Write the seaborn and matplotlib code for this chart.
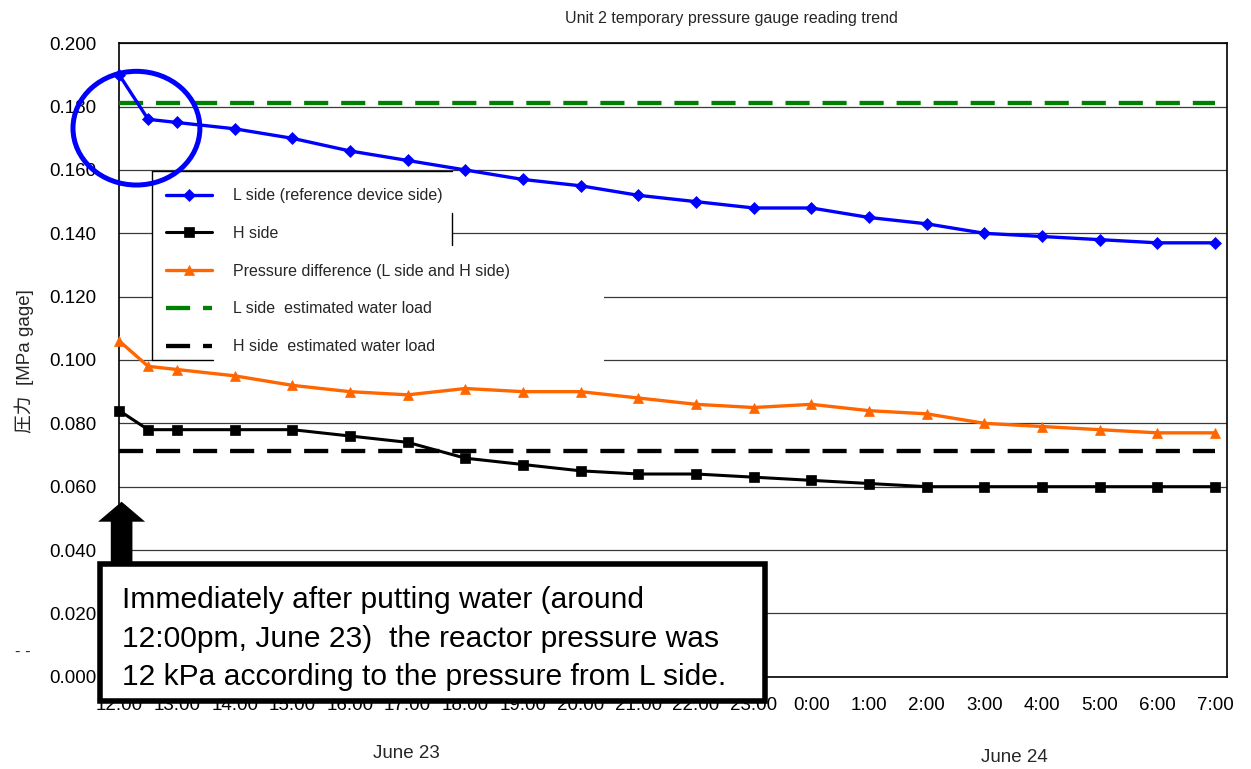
import matplotlib
matplotlib.use("Agg")
import matplotlib.pyplot as plt
import seaborn as sns
from matplotlib.patches import Ellipse, FancyArrow, Rectangle
from matplotlib.lines import Line2D

# ---------------- data ----------------
hours = [0, 0.5, 1, 2, 3, 4, 5, 6, 7, 8, 9, 10, 11, 12, 13, 14, 15, 16, 17, 18, 19]
l_side = [0.190, 0.176, 0.175, 0.173, 0.170, 0.166, 0.163, 0.160, 0.157, 0.155, 0.152,
          0.150, 0.148, 0.148, 0.145, 0.143, 0.140, 0.139, 0.138, 0.137, 0.137]
h_side = [0.084, 0.078, 0.078, 0.078, 0.078, 0.076, 0.074, 0.069, 0.067, 0.065, 0.064,
          0.064, 0.063, 0.062, 0.061, 0.060, 0.060, 0.060, 0.060, 0.060, 0.060]
p_diff = [0.106, 0.098, 0.097, 0.095, 0.092, 0.090, 0.089, 0.091, 0.090, 0.090, 0.088,
          0.086, 0.085, 0.086, 0.084, 0.083, 0.080, 0.079, 0.078, 0.077, 0.077]
l_est = 0.1812
h_est = 0.0714
tick_hours = list(range(20))
tick_labels = ["12:00", "13:00", "14:00", "15:00", "16:00", "17:00", "18:00", "19:00",
               "20:00", "21:00", "22:00", "23:00", "0:00", "1:00", "2:00", "3:00",
               "4:00", "5:00", "6:00", "7:00"]
y_ticks = [0.000, 0.020, 0.040, 0.060, 0.080, 0.100, 0.120, 0.140, 0.160, 0.180, 0.200]
series_names = ["L side (reference device side)", "H side",
                "Pressure difference (L side and H side)",
                "L side  estimated water load", "H side  estimated water load"]
title = "Unit 2 temporary pressure gauge reading trend"
ylabel = "圧力  [MPa gage]"
date_labels = ["June 23", "June 24"]
note_lines = ["Immediately after putting water (around",
              "12:00pm, June 23)  the reactor pressure was",
              "12 kPa according to the pressure from L side."]

# ---------------- style ----------------
sns.set_style("white")
plt.rcParams["font.family"] = ["Liberation Sans", "Noto Sans CJK JP", "DejaVu Sans"]

W, H = 1251, 769
fig = plt.figure(figsize=(W / 100, H / 100), dpi=100)
L, R, T, B = 119.3, 1226.7, 43.3, 676.7
ax = fig.add_axes([L / W, 1 - B / H, (R - L) / W, (B - T) / H])


def axx(px):
    return (px - L) / (R - L)


def axy(py):
    return (B - py) / (B - T)


def fx(px):
    return px / W


def fy(py):
    return 1 - py / H


blue, orange, green = "#0000FF", "#FF6600", "#008000"

sns.lineplot(x=hours, y=l_side, ax=ax, color=blue, lw=2.4, marker="D", markersize=6.5,
             markeredgecolor=blue, markeredgewidth=0.5, label=series_names[0], zorder=4)
sns.lineplot(x=hours, y=h_side, ax=ax, color="black", lw=2.2, marker="s", markersize=7,
             markeredgecolor="black", markeredgewidth=0.5, label=series_names[1], zorder=4)
sns.lineplot(x=hours, y=p_diff, ax=ax, color=orange, lw=2.4, marker="^", markersize=7.5,
             markeredgecolor=orange, markeredgewidth=0.5, label=series_names[2], zorder=4)
for ln in ax.lines:
    ln.set_clip_on(False)
ax.plot([hours[0], hours[-1]], [l_est, l_est], color=green, lw=3.1,
        linestyle=(0, (5.6, 3.0)), dash_capstyle="butt", label=series_names[3], zorder=3)
ax.plot([hours[0], hours[-1]], [h_est, h_est], color="black", lw=3.1,
        linestyle=(0, (5.6, 3.0)), dash_capstyle="butt", label=series_names[4], zorder=3)

ax.set_xlim(0, 19.2)
ax.set_ylim(0, 0.2)
ax.set_xticks(tick_hours)
ax.set_xticklabels(tick_labels)
ax.set_yticks(y_ticks)
ax.set_yticklabels([f"{v:.3f}" for v in y_ticks])
ax.tick_params(axis="both", length=0, labelsize=13.5, colors="black")
ax.tick_params(axis="y", pad=16.3)
ax.tick_params(axis="x", pad=14.5)
ax.set_xlabel("")
ax.set_ylabel("")
ax.yaxis.grid(True, color="#3a3a3a", lw=0.9)
ax.xaxis.grid(False)
ax.set_axisbelow(True)
for sp in ax.spines.values():
    sp.set_visible(True)
    sp.set_color("black")
    sp.set_linewidth(1.2)

# legend white area and partial border
for (x0, y0, x1, y1) in [(151.7, 171, 451.7, 361.5), (451.7, 248, 604, 361.5)]:
    ax.add_patch(Rectangle((axx(x0), axy(y1)), axx(x1) - axx(x0), axy(y0) - axy(y1),
                           transform=ax.transAxes, facecolor="white", edgecolor="none",
                           zorder=3.5))
for (xa, ya, xb, yb) in [(151.7, 171, 451.7, 171), (151.7, 171, 151.7, 359.5),
                         (151.7, 359.5, 213.3, 359.5), (451.7, 213, 451.7, 245)]:
    ax.add_line(Line2D([axx(xa), axx(xb)], [axy(ya), axy(yb)], transform=ax.transAxes,
                       color="black", lw=1.0, zorder=3.6))

handles, labels = ax.get_legend_handles_labels()
leg = ax.legend(handles, labels, loc="upper left", bbox_to_anchor=(axx(151.7), axy(174)),
                borderaxespad=0, frameon=False, fontsize=11.5, handlelength=2.9,
                handletextpad=1.3, labelspacing=1.42, borderpad=0.9)
leg.set_zorder(5)

# circle highlight
ax.add_patch(Ellipse((0.297, 0.1732), width=2.2, height=0.0359, fill=False,
                     edgecolor=blue, lw=3.6, clip_on=False, zorder=6))

# block arrow
ax.add_patch(FancyArrow(0.04, 0.03, 0, 0.02526, width=0.375, head_width=0.815,
                        head_length=0.00632, length_includes_head=True,
                        facecolor="black", edgecolor="none", clip_on=False, zorder=6))

# annotation box
fig.add_artist(Rectangle((fx(99.5), fy(701.2)), fx(765.2) - fx(99.5), fy(563.8) - fy(701.2),
                         transform=fig.transFigure, facecolor="white", edgecolor="black",
                         lw=4, zorder=10))
for line, base in zip(note_lines, [608, 647, 685]):
    fig.text(fx(121.7), fy(base), line, ha="left", va="baseline", fontsize=21.6,
             color="black", zorder=11)

# texts
fig.text(fx(731), fy(18), title, ha="center", va="center", fontsize=11.5)
fig.text(fx(24.7), fy(361), ylabel, ha="center", va="center", rotation=90, fontsize=13.5,
         family=["Liberation Sans", "Noto Sans CJK JP", "DejaVu Sans"])
fig.text(fx(406), fy(753), date_labels[0], ha="center", va="center", fontsize=13.5)
fig.text(fx(1014.6), fy(757), date_labels[1], ha="center", va="center", fontsize=13.5)
fig.text(fx(23), fy(652), "- -", ha="center", va="center", fontsize=12)

fig.savefig("out.png", dpi=100)
